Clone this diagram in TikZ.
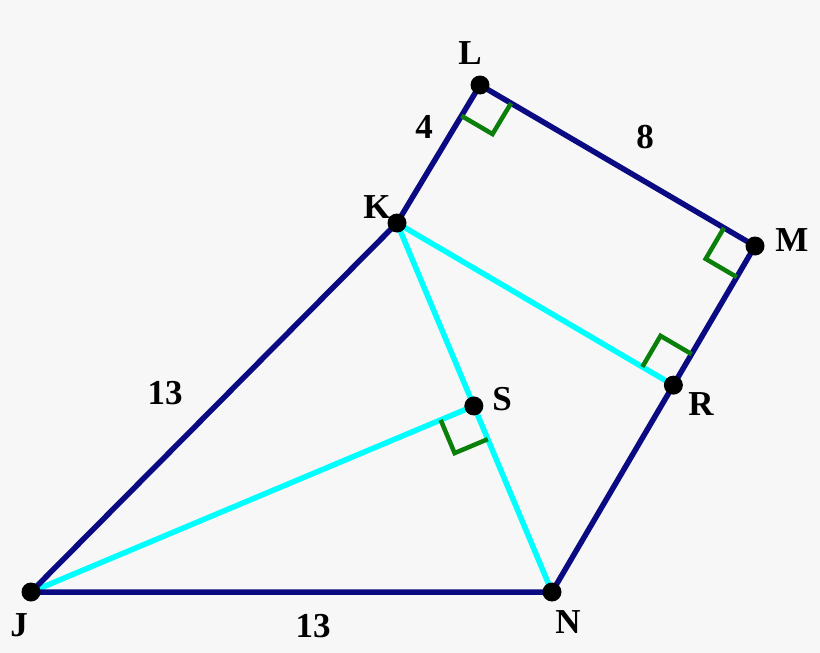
\documentclass[tikz,border=0pt]{standalone}
\usepackage{fontspec}
\setmainfont{Liberation Serif}
\usetikzlibrary{calc}

\definecolor{paper}{RGB}{247,247,247}
\definecolor{navyline}{RGB}{10,10,130}
\definecolor{cyanline}{RGB}{0,255,255}
\definecolor{markgreen}{RGB}{10,128,10}

\tikzset{
    side/.style={draw=navyline, line width=5.5pt},
    foot/.style={draw=cyanline, line width=5.5pt},
    rmark/.style={draw=markgreen, line width=4.5pt},
    pt/.style={circle, fill=black, inner sep=0pt, minimum size=19pt},
    lbl/.style={font=\fontsize{35}{35}\selectfont\bfseries}
}

% right angle mark at #1 between #2 and #3
\newcommand{\rtanglemark}[3]{
    \path ($(#1)!36pt!(#2)$) coordinate (p1) ($(#1)!36pt!(#3)$) coordinate (p2);
    \draw[rmark] (p1) -- ($(p1)+(p2)-(#1)$) -- (p2);
}

\begin{document}
\begin{tikzpicture}[x=1pt, y=-1pt]
    \fill[paper] (0,0) rectangle (820,653);
    \useasboundingbox (0,0) rectangle (820,653);

    \coordinate (J) at (31,592);
    \coordinate (N) at (552,592);
    \coordinate (K) at (397,223);
    \coordinate (L) at (480,85);
    \coordinate (M) at (755,246);
    \coordinate (R) at ($(M)!(K)!(N)$);
    \coordinate (S) at ($(K)!(J)!(N)$);

    \draw[foot] (K) -- (N);
    \draw[foot] (K) -- (R);
    \draw[foot] (J) -- (S);
    \draw[side] (J) -- (K) -- (L) -- (M) -- (N) -- cycle;

    \rtanglemark{L}{K}{M}
    \rtanglemark{M}{L}{N}
    \rtanglemark{R}{K}{M}
    \rtanglemark{S}{J}{N}

    \foreach \p in {J,N,K,L,M,R,S}
        \node[pt] (dot\p) at (\p) {};

    \node[lbl] (labL) at (470,53) {L};
    \node[lbl] (labK) at (377,207) {K};
    \node[lbl] (labM) at (792,240) {M};
    \node[lbl] (labR) at (701,404) {R};
    \node[lbl] (labS) at (502,399) {S};
    \node[lbl] (labJ) at (19,625) {J};
    \node[lbl] (labN) at (568,622) {N};
    \node[lbl] (lenKL) at (424,127) {4};
    \node[lbl] (lenLM) at (645,137) {8};
    \node[lbl] (lenJK) at (165,393) {13};
    \node[lbl] (lenJN) at (313,626) {13};
\end{tikzpicture}
\end{document}
